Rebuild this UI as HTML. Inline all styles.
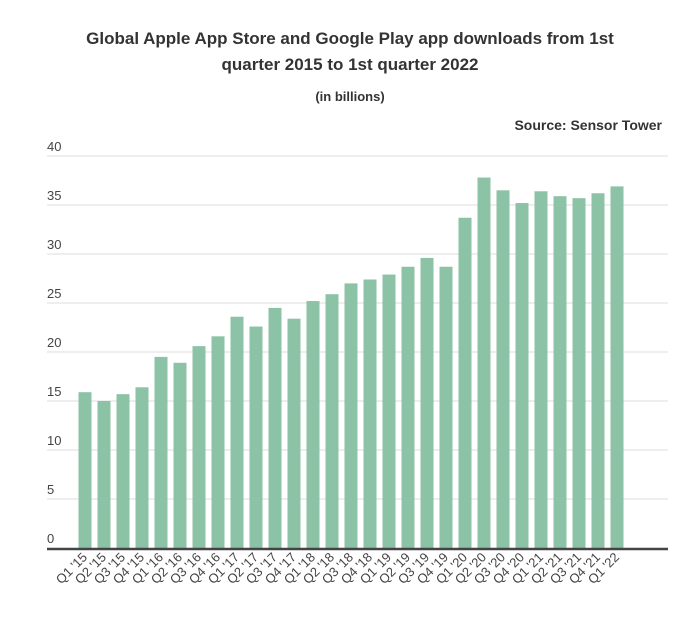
<!DOCTYPE html>
<html><head><meta charset="utf-8"><style>
body{margin:0;background:#fff;font-family:"Liberation Sans",Arial,sans-serif;}
</style></head><body>
<svg width="700" height="619" xmlns="http://www.w3.org/2000/svg">
<text x="350" y="44" text-anchor="middle" font-size="17" font-weight="bold" fill="#333">Global Apple App Store and Google Play app downloads from 1st</text>
<text x="350" y="70" text-anchor="middle" font-size="17" font-weight="bold" fill="#333">quarter 2015 to 1st quarter 2022</text>
<text x="350" y="101" text-anchor="middle" font-size="13" font-weight="bold" fill="#333">(in billions)</text>
<text x="662" y="130" text-anchor="end" font-size="14" font-weight="bold" fill="#333">Source: Sensor Tower</text>
<g id="grid"></g><g id="bars"></g><g id="xl"></g>
<line x1="47" x2="668" y1="549" y2="549" stroke="#444" stroke-width="2.5"/>
</svg>
<script>
const categories=["Q1 '15","Q2 '15","Q3 '15","Q4 '15","Q1 '16","Q2 '16","Q3 '16","Q4 '16","Q1 '17","Q2 '17","Q3 '17","Q4 '17","Q1 '18","Q2 '18","Q3 '18","Q4 '18","Q1 '19","Q2 '19","Q3 '19","Q4 '19","Q1 '20","Q2 '20","Q3 '20","Q4 '20","Q1 '21","Q2 '21","Q3 '21","Q4 '21","Q1 '22"];
const values=[15.9,15.0,15.7,16.4,19.5,18.9,20.6,21.6,23.6,22.6,24.5,23.4,25.2,25.9,27.0,27.4,27.9,28.7,29.6,28.7,33.7,37.8,36.5,35.2,36.4,35.9,35.7,36.2,36.9];
const yTicks=[0,5,10,15,20,25,30,35,40];
const NS="http://www.w3.org/2000/svg";
const y=v=>548-v*9.8;
const x=i=>85+i*19;
const grid=document.getElementById('grid'),bars=document.getElementById('bars'),xl=document.getElementById('xl');
yTicks.forEach(t=>{
 if(t>0){const l=document.createElementNS(NS,'line');
 l.setAttribute('x1',47);l.setAttribute('x2',668);l.setAttribute('y1',y(t));l.setAttribute('y2',y(t));
 l.setAttribute('stroke','#ddd');l.setAttribute('stroke-width','1');
 
 
 grid.appendChild(l);}
 const tx=document.createElementNS(NS,'text');
 tx.setAttribute('x',47);tx.setAttribute('y',y(t)-5);tx.setAttribute('font-size','13');tx.setAttribute('fill','#444');
 tx.textContent=t;
 
 
 grid.appendChild(tx);
});
values.forEach((v,i)=>{
 const r=document.createElementNS(NS,'rect');
 r.setAttribute('x',x(i)-6.5);r.setAttribute('width',13);r.setAttribute('y',y(v));r.setAttribute('height',548-y(v));
 r.setAttribute('fill','#8cc3a6');
 
 
 bars.appendChild(r);
 const tx=document.createElementNS(NS,'text');
 const cx=x(i)+3,cy=558;
 tx.setAttribute('x',cx);tx.setAttribute('y',cy);tx.setAttribute('text-anchor','end');
 tx.setAttribute('font-size','13');tx.setAttribute('fill','#444');
 tx.setAttribute('transform','rotate(-45 '+cx+' '+cy+')');
 tx.textContent=categories[i];
 
 
 xl.appendChild(tx);
});
</script>
</body></html>
